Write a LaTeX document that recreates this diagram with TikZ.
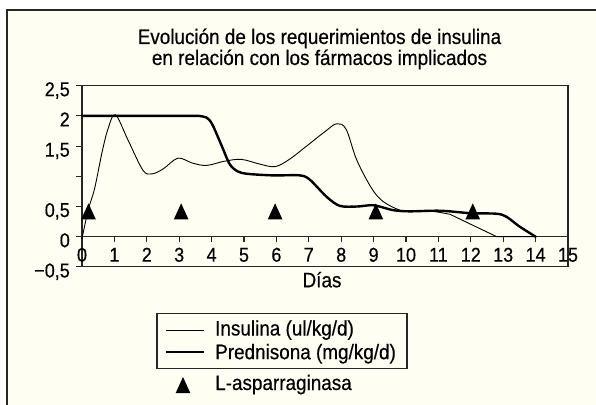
\documentclass[tikz,border=0pt]{standalone}
\usepackage{fontspec}
\setmainfont{Liberation Sans}[FakeStretch=0.9,FakeBold=0.4]
\newfontfamily\numfont{Liberation Sans}[FakeStretch=0.9,FakeBold=0.4]
\definecolor{bgc}{RGB}{255,254,242}
\begin{document}
\begin{tikzpicture}[x=1pt,y=1pt,
  lbl/.style={font=\fontsize{21}{23}\selectfont, inner sep=0pt},
  numlbl/.style={font=\numfont\fontsize{20}{22}\selectfont, inner sep=0pt},
  thinc/.style={line width=0.9pt, line join=round, line cap=round},
  thickc/.style={line width=2.4pt, line join=round, line cap=round},
  axisl/.style={line width=1.1pt, color=black!85}]
\useasboundingbox (0,0) rectangle (596,404);
\fill[white] (0,0) rectangle (596,404);
\fill[bgc] (7,-2) rectangle (598,394);
\draw[line width=1.3pt, color=black!85] (7,-2) -- (7,394) -- (598,394);
% title
\node[lbl, anchor=base] (t1) at (319.5,360) {Evolución de los requerimientos de insulina};
\node[lbl, anchor=base] (t2) at (319.5,339) {en relación con los fármacos implicados};
\begin{scope}[shift={(82,167.3)}, x=32.4pt, y=60.4pt]
  \draw[axisl] (0,-0.5) rectangle (15,2.5);
  \draw[axisl] (0,0) -- (15,0);
  \foreach \i in {1,...,15} \draw[axisl] (\i,0) -- ++(0,-5pt);
  \foreach \v in {-0.5,0,0.5,1,1.5,2,2.5} \draw[axisl] (0,\v) -- ++(-6pt,0);
  \foreach \i in {0,...,15} \node[numlbl, anchor=base] (x\i) at (\i,-0.414) {\i};
  \node[numlbl, anchor=base east] (y25) at (-0.37,2.326) {2,5};
  \node[numlbl, anchor=base east] (y20) at (-0.37,1.826) {2};
  \node[numlbl, anchor=base east] (y15) at (-0.37,1.326) {1,5};
  \node[numlbl, anchor=base east] (y05) at (-0.37,0.326) {0,5};
  \node[numlbl, anchor=base east] (y00) at (-0.37,-0.174) {0};
  \node[numlbl, anchor=base east] (ym05) at (-0.37,-0.674) {−0,5};
  % insulina
  \draw[thinc] plot[smooth, tension=0.55] coordinates {
    (0,-0.03) (0.19,0.44) (0.39,0.8) (0.62,1.4) (0.8,1.78) (1.03,2.02)
    (1.42,1.6) (1.88,1.1) (2.16,1.04) (2.5,1.12) (2.96,1.3) (3.4,1.22) (3.84,1.18)
    (4.4,1.25) (4.92,1.28) (5.5,1.2) (5.96,1.16) (6.4,1.28) (6.93,1.5) (7.5,1.74) (7.86,1.87)
    (8.15,1.78) (8.48,1.27) (8.94,0.8) (9.3,0.58) (9.81,0.44) (10.2,0.42) (10.8,0.42) (11.36,0.37)}
    -- (12.8,0) -- (14,0);
  % prednisona
  \draw[thickc] (0,2) -- (3.6,2) plot[smooth, tension=0.5] coordinates {
    (3.6,2) (3.85,1.97) (4.02,1.86) (4.3,1.52) (4.56,1.2) (4.81,1.08) (5.12,1.04)
    (5.9,1.015) (6.73,1.015) (7.04,0.94) (7.55,0.66) (7.96,0.51) (8.5,0.5) (9.0,0.52)
    (9.6,0.44) (10.1,0.42) (11.05,0.43) (11.98,0.39) (12.8,0.38) (13.1,0.33) (13.5,0.17) (14,0)};
  % L-asparraginasa
  \foreach \d in {0.2,3.06,5.96,9.07,12.06}
    \fill (\d,0.288) ++(-7.3pt,0pt) -- ++(14.6pt,0pt) -- ++(-7.3pt,16pt) -- cycle;
\end{scope}
\node[lbl, anchor=base] (dias) at (322,116.7) {Días};
% legend
\draw[axisl] (157,35.7) rectangle (407,90.7);
\draw[thinc, line cap=butt] (166,74) -- (204,74);
\draw[thickc, line cap=butt] (166,52.3) -- (204,52.3);
\node[lbl, anchor=base west] (l1) at (215,68.5) {Insulina (ul/kg/d)};
\node[lbl, anchor=base west] (l2) at (215,44.8) {Prednisona (mg/kg/d)};
\fill (183,11) ++(-7.3pt,0pt) -- ++(14.6pt,0pt) -- ++(-7.3pt,16pt) -- cycle;
\node[lbl, anchor=base west] (l3) at (215,14) {L-asparraginasa};
\end{tikzpicture}
\end{document}
